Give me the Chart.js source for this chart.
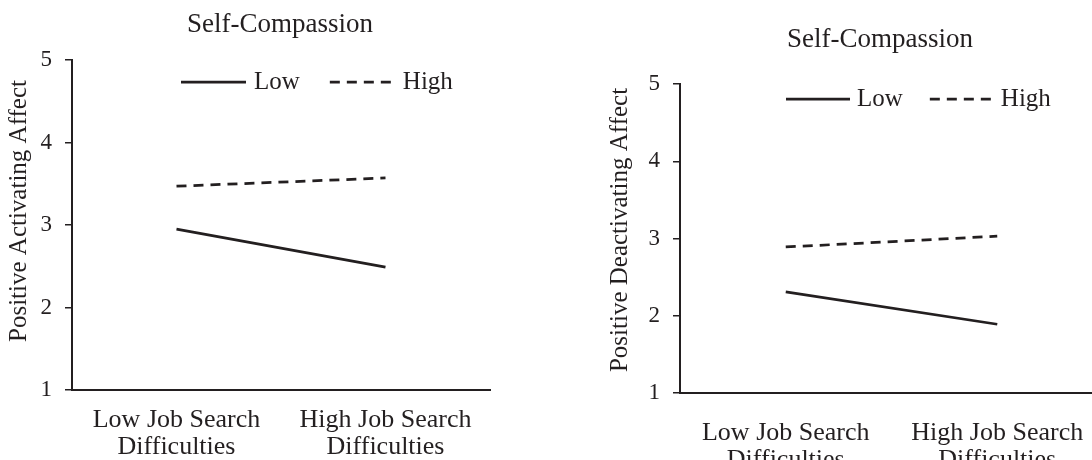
<!DOCTYPE html>
<html>
<head>
<meta charset="utf-8">
<script src="https://cdn.jsdelivr.net/npm/chart.js@4.4.1/dist/chart.umd.min.js"></script>
<style>
    html, body { margin: 0; padding: 0; background: #fff; }
    body { width: 1092px; height: 460px; overflow: hidden; position: relative; }
    .panel { position: absolute; top: 0; height: 460px; }
    #leftPanel { left: 0; width: 546px; }
    #rightPanel { left: 546px; width: 600px; }
</style>
</head>
<body>
<div class="panel" id="leftPanel"><canvas id="activatingChart" width="546" height="460"></canvas></div>
<div class="panel" id="rightPanel"><canvas id="deactivatingChart" width="600" height="460"></canvas></div>
<script>
// Data
const categories = [['Low Job Search', 'Difficulties'], ['High Job Search', 'Difficulties']];
const seriesNames = ['Low', 'High'];
const yTicks = [1, 2, 3, 4, 5];
const activatingLow = [2.95, 2.49];
const activatingHigh = [3.47, 3.57];
const deactivatingLow = [2.31, 1.89];
const deactivatingHigh = [2.89, 3.03];

const ink = '#231f20';
const serif = '"Liberation Serif", "Times New Roman", serif';

// Title, rotated y title and legend drawn at fixed spots
const figureText = {
    id: 'figureText',
    afterDraw(chart, args, opts) {
        const ctx = chart.ctx;
        ctx.save();
        ctx.fillStyle = ink;
        ctx.textBaseline = 'middle';

        ctx.font = '27px ' + serif;
        ctx.textAlign = 'center';
        ctx.fillText(opts.title, opts.titleX, opts.titleY);

        ctx.save();
        ctx.translate(opts.yTitleX, opts.yTitleY);
        ctx.rotate(-Math.PI / 2);
        ctx.font = '25px ' + serif;
        ctx.fillText(opts.yTitle, 0, 0);
        ctx.restore();

        ctx.font = '25px ' + serif;
        ctx.textAlign = 'left';
        let x = opts.legendX;
        chart.data.datasets.forEach(ds => {
            ctx.beginPath();
            ctx.setLineDash(ds.borderDash || []);
            ctx.lineWidth = ds.borderWidth;
            ctx.strokeStyle = ds.borderColor;
            ctx.moveTo(x, opts.legendY);
            ctx.lineTo(x + opts.lineLen, opts.legendY);
            ctx.stroke();
            x += opts.lineLen + opts.textGap;
            ctx.fillText(ds.label, x, opts.legendY);
            x += ctx.measureText(ds.label).width + opts.itemGap;
        });
        ctx.restore();
    }
};

function makeDataset(label, data, dashed) {
    return {
        label: label,
        data: data,
        borderColor: ink,
        borderWidth: 2.75,
        borderDash: dashed ? [10, 7] : [],
        borderCapStyle: 'butt',
        pointRadius: 0,
        tension: 0,
        fill: false
    };
}

function buildChart(canvasId, lowData, highData, layout) {
    const ctx = document.getElementById(canvasId);
    return new Chart(ctx, {
        type: 'line',
        data: {
            labels: categories,
            datasets: [
                makeDataset(seriesNames[0], lowData, false),
                makeDataset(seriesNames[1], highData, true)
            ]
        },
        options: {
            responsive: false,
            animation: false,
            layout: { padding: layout.padding },
            plugins: {
                legend: { display: false },
                tooltip: { enabled: false },
                figureText: layout.text
            },
            scales: {
                x: {
                    offset: true,
                    grid: { display: false },
                    border: { display: true, color: ink, width: 2 },
                    ticks: {
                        color: ink,
                        padding: layout.xPad,
                        maxRotation: 0,
                        autoSkip: false,
                        font: { family: serif, size: 26, lineHeight: 1.06 }
                    },
                    afterFit: s => { s.height = layout.xHeight; }
                },
                y: {
                    min: 1,
                    max: 5,
                    grid: {
                        display: true,
                        drawOnChartArea: false,
                        drawTicks: true,
                        tickLength: 7,
                        color: ink,
                        lineWidth: 1.5
                    },
                    border: { display: true, color: ink, width: 2 },
                    ticks: {
                        color: ink,
                        padding: 13,
                        font: { family: serif, size: 23 }
                    },
                    afterBuildTicks: s => { s.ticks = yTicks.map(v => ({ value: v })); },
                    afterFit: s => { s.width = layout.yWidth; }
                }
            }
        },
        plugins: [figureText]
    });
}

buildChart('activatingChart', activatingLow, activatingHigh, {
    padding: { top: 60, right: 56, left: 0, bottom: 0 },
    yWidth: 72,
    xHeight: 70,
    xPad: 8,
    text: {
        title: 'Self-Compassion', titleX: 280, titleY: 25,
        yTitle: 'Positive Activating Affect', yTitleX: 19, yTitleY: 211,
        legendX: 181, legendY: 82, lineLen: 65, textGap: 8, itemGap: 30
    }
});

buildChart('deactivatingChart', deactivatingLow, deactivatingHigh, {
    padding: { top: 84, right: 43, left: 0, bottom: 0 },
    yWidth: 134,
    xHeight: 67,
    xPad: 18,
    text: {
        title: 'Self-Compassion', titleX: 334, titleY: 40,
        yTitle: 'Positive Deactivating Affect', yTitleX: 74, yTitleY: 230,
        legendX: 240, legendY: 99, lineLen: 64, textGap: 7, itemGap: 27
    }
});
</script>
</body>
</html>
